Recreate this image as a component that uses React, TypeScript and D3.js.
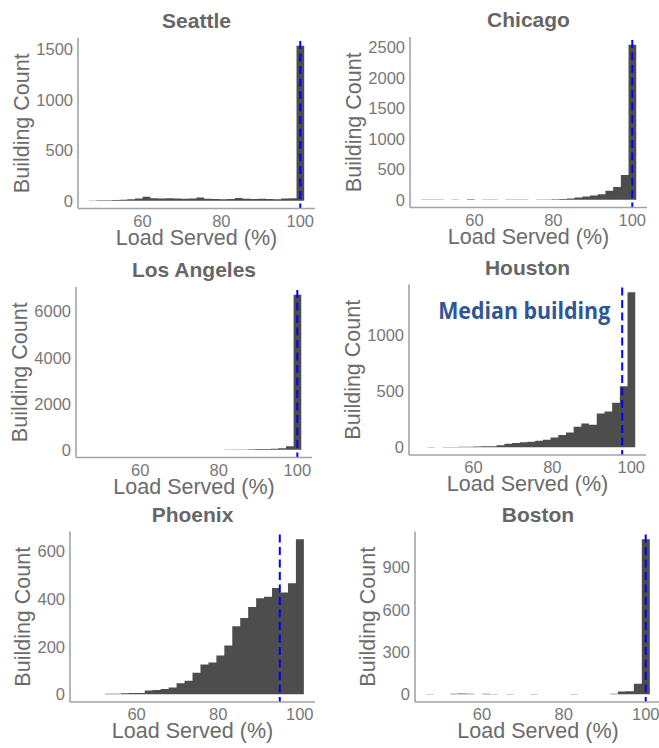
import React from "react";
import * as d3 from "d3";

// histogram bins shared by every city
const binStart = 46.4;
const binWidth = 1.95;

const cities = ["Seattle", "Chicago", "Los Angeles", "Houston", "Phoenix", "Boston"];

const seattleCounts = [3, 5, 6, 8, 10, 14, 22, 40, 26, 22, 24, 22, 20, 22, 32, 20, 18, 16, 18, 28, 20, 18, 20, 18, 16, 22, 24, 1536];
const chicagoCounts = [4, 5, 5, 0, 6, 0, 8, 0, 4, 5, 0, 6, 5, 5, 0, 6, 6, 8, 11, 22, 38, 54, 71, 92, 147, 210, 405, 2540];
const laCounts = [0, 0, 0, 0, 0, 0, 0, 0, 0, 0, 0, 0, 0, 0, 0, 3, 0, 5, 8, 12, 15, 20, 28, 36, 45, 60, 150, 6728];
const houstonCounts = [0, 3, 0, 3, 2, 4, 5, 6, 8, 9, 18, 32, 38, 44, 49, 58, 67, 88, 109, 132, 182, 212, 200, 300, 318, 397, 544, 1382];
const phoenixCounts = [0, 0, 0, 2, 2, 4, 5, 5, 16, 18, 22, 28, 46, 57, 90, 125, 133, 163, 205, 286, 320, 366, 403, 410, 446, 427, 466, 651];
const bostonCounts = [2, 0, 0, 3, 5, 3, 0, 3, 2, 0, 2, 0, 0, 2, 0, 0, 0, 0, 2, 0, 0, 0, 0, 4, 20, 22, 75, 1099];

const countsByCity = [seattleCounts, chicagoCounts, laCounts, houstonCounts, phoenixCounts, bostonCounts];
const medians = [100, 100, 100, 97.7, 95.1, 100];

const xTicks = [60, 80, 100];
const yTicksByCity = [
  [0, 500, 1000, 1500],
  [0, 500, 1000, 1500, 2000, 2500],
  [0, 2000, 4000, 6000],
  [0, 500, 1000],
  [0, 200, 400, 600],
  [0, 300, 600, 900],
];

const annotation = "Median building";
const annotatedCity = "Houston";

// panel frames (plot area) in the 659x748 picture
const frames = [
  { left: 78, top: 38, right: 315 },
  { left: 410, top: 37, right: 647 },
  { left: 76, top: 287, right: 312 },
  { left: 409, top: 284.5, right: 646 },
  { left: 70, top: 531.5, right: 315 },
  { left: 415, top: 531.5, right: 661 },
];
const panelHeight = 170.5;

const font = "'Liberation Sans', Arial, sans-serif";
const tickSize = 16.5;

function Panel({ i }: { i: number }) {
  const { left, top, right } = frames[i];
  const bottom = top + panelHeight;
  const counts = countsByCity[i];
  const lo = binStart;
  const hi = binStart + counts.length * binWidth;
  const pad = (hi - lo) * 0.05;
  const x = d3.scaleLinear().domain([lo - pad, hi + pad]).range([left, right]);
  const max = d3.max(counts) as number;
  const y = d3.scaleLinear().domain([-0.05 * max, 1.05 * max]).range([bottom, top]);

  const p = d3.path();
  counts.forEach((c, k) => {
    if (c <= 0) return;
    const x0 = x(binStart + k * binWidth);
    const x1 = x(binStart + (k + 1) * binWidth);
    p.rect(x0, y(c), x1 - x0, y(0) - y(c));
  });

  const yTicks = yTicksByCity[i];
  const labelW = d3.max(yTicks, (t) => String(t).length)! * 0.556 * tickSize;
  const yTitleX = left - 5 - labelW - 7;
  const cx = (left + right) / 2;

  return (
    <g>
      <text x={cx} y={top - 10} textAnchor="middle" fontFamily={font} fontWeight="bold" fontSize={21} fill="#666">
        {cities[i]}
      </text>
      <path d={p.toString()} fill="#4d4d4d" />
      <line
        x1={x(medians[i])}
        x2={x(medians[i])}
        y1={top + 3}
        y2={bottom}
        stroke="#0000ff"
        strokeWidth={2}
        strokeDasharray="8,4.5"
      />
      <line x1={left} x2={left} y1={top} y2={bottom} stroke="#a3a3a3" strokeWidth={1.6} />
      <line x1={left} x2={right} y1={bottom} y2={bottom} stroke="#a3a3a3" strokeWidth={1.6} />
      {yTicks.map((t) => (
        <text key={t} x={left - 5} y={y(t)} dy="0.36em" textAnchor="end" fontFamily={font} fontSize={tickSize} fill="#777">
          {t}
        </text>
      ))}
      {xTicks.map((t) => (
        <text key={t} x={x(t)} y={bottom + 18} textAnchor="middle" fontFamily={font} fontSize={tickSize} fill="#777">
          {t}
        </text>
      ))}
      <text x={cx} y={bottom + 36} textAnchor="middle" fontFamily={font} fontSize={21.5} fill="#6b6b6b">
        Load Served (%)
      </text>
      <text
        transform={`translate(${yTitleX},${(top + bottom) / 2}) rotate(-90)`}
        textAnchor="middle"
        fontFamily={font}
        fontSize={21.5}
        fill="#6b6b6b"
      >
        Building Count
      </text>
      {cities[i] === annotatedCity && (
        <text
          x={x(medians[i]) - 12}
          y={top + 34}
          textAnchor="end"
          fontFamily="'Open Sans', 'Noto Sans', sans-serif"
          fontWeight="bold"
          fontSize={22.5}
          fill="#2f5597"
          textLength={172}
          lengthAdjust="spacingAndGlyphs"
        >
          {annotation}
        </text>
      )}
    </g>
  );
}

export default function App() {
  return (
    <svg
      width={659}
      height={748}
      style={{ position: "absolute", left: 0, top: 0, background: "#fff" }}
    >
      {cities.map((c, i) => (
        <Panel key={c} i={i} />
      ))}
    </svg>
  );
}
